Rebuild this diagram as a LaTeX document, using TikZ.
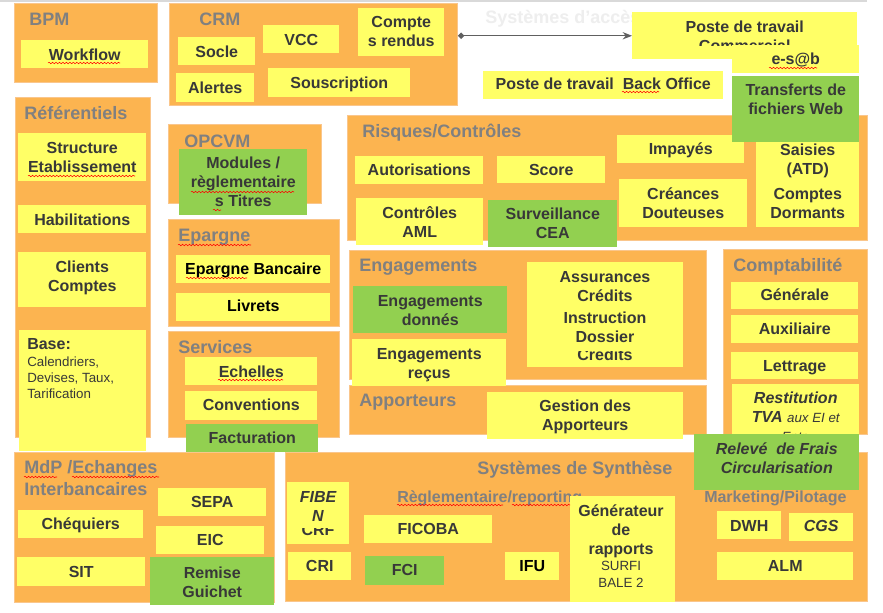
\documentclass[tikz,border=0pt]{standalone}
\usepackage{fontspec}
\setmainfont{Liberation Sans}
\usetikzlibrary{arrows.meta,decorations.pathmorphing}
\definecolor{orng}{RGB}{252,180,80}
\definecolor{orngedge}{RGB}{250,198,140}
\definecolor{ylw}{RGB}{255,255,102}
\definecolor{grn}{RGB}{146,208,80}
\definecolor{titc}{RGB}{128,128,128}
\definecolor{txtc}{RGB}{56,56,56}
\definecolor{faint}{RGB}{238,238,238}
\newcommand{\mybox}[6]{\node[#1, anchor=north west, minimum width={(#5-#3)*0.75pt}, minimum height={(#6-#4)*0.75pt}] (#2) at (#3,#4) {};}
\newcommand{\mytxt}[5][]{\node[lbl,#1] (#2) at (#3.center |- 0,#4) {#5};}
\begin{document}
\begin{tikzpicture}[x=0.75pt,y=-0.75pt,
  cont/.style={rectangle, fill=orng, draw=orngedge, line width=0.6pt, inner sep=0},
  yb/.style={rectangle, fill=ylw, inner sep=0},
  gb/.style={rectangle, fill=grn, inner sep=0},
  lbl/.style={font=\bfseries\fontsize{12}{14.25}\selectfont, text=txtc, inner sep=0, align=center, anchor=base},
  bi/.style={font=\bfseries\itshape\fontsize{12}{14.25}\selectfont},
  ttl/.style={font=\bfseries\fontsize{13.5}{16}\selectfont, text=titc, inner sep=0, anchor=base west},
  subt/.style={font=\bfseries\fontsize{12}{14}\selectfont, text=titc, inner sep=0, anchor=base west},
  squig/.style={draw=red, line width=0.4pt, decorate, decoration={snake, amplitude=0.55pt, segment length=2.6pt}},
  con/.style={draw=gray!75!black, line width=0.9pt, arrows={Diamond[length=5pt,width=5pt]-Stealth[length=7pt,width=5.5pt]}}
]
\useasboundingbox (0,0) rectangle (883,612);
\fill[white] (0,0) rectangle (883,612);
\draw[gray!30, line width=0.8pt] (0,1) -- (867,1);
\node[ttl, text=faint] (acces) at (485,23) {Systèmes d’accès};

% containers
\mybox{cont}{BPM}{14}{3}{157}{82}
\mybox{cont}{CRM}{169}{3}{457}{105}
\mybox{cont}{REF}{15}{97}{150}{437}
\mybox{cont}{OPC}{168}{124}{321}{203}
\mybox{cont}{EPA}{168}{219}{339}{326}
\mybox{cont}{SER}{168}{331}{339}{437}
\mybox{cont}{RIS}{347}{115}{867}{240}
\mybox{cont}{ENG}{349}{250}{706}{379}
\mybox{cont}{APP}{349}{385}{706}{434}
\mybox{cont}{CPT}{723}{249}{867}{434}
\mybox{cont}{MDP}{14}{452}{274}{602}
\mybox{cont}{SYN}{285}{452}{867}{601}

% titles
\node[ttl] (tBPM) at (29,25) {BPM};
\node[ttl] (tCRM) at (199,25) {CRM};
\node[ttl] (tREF) at (24,119) {Référentiels};
\node[ttl] (tOPC) at (184,147) {OPCVM};
\node[ttl] (tEPA) at (178,241) {Epargne};
\node[ttl] (tSER) at (178,353) {Services};
\node[ttl] (tRIS) at (362,137) {Risques/Contrôles};
\node[ttl] (tENG) at (359,271) {Engagements};
\node[ttl] (tAPP) at (359,406) {Apporteurs};
\node[ttl] (tCPT) at (733,271) {Comptabilité};
\node[ttl] (tMDP1) at (24,473) {MdP /Echanges};
\node[ttl] (tMDP2) at (24,495) {Interbancaires};
\node[ttl] (tSYN) at (477,474) {Systèmes de Synthèse};
\node[subt] (tREG) at (397,502) {Règlementaire/reporting};
\node[subt] (tMKT) at (704,502) {Marketing/Pilotage};

% BPM / CRM
\mybox{yb}{WF}{21}{40}{148}{68} \mytxt{tWF}{WF}{60}{Workflow}
\mybox{yb}{Socle}{178}{37}{255}{65} \mytxt{tSocle}{Socle}{57}{Socle}
\mybox{yb}{ALE}{176}{73}{254}{102} \mytxt{tALE}{ALE}{93}{Alertes}
\mybox{yb}{VCC}{263}{25}{339}{53} \mytxt{tVCC}{VCC}{45}{VCC}
\mybox{yb}{SOU}{268}{68}{410}{97} \mytxt{tSOU}{SOU}{88}{Souscription}
\mybox{yb}{CR}{358}{8}{444}{56} \mytxt{tCR}{CR}{46}{Compte\\s rendus}

% postes de travail
\mybox{yb}{PTC}{632}{12}{857}{59}
\begin{scope}
\clip (632,12) rectangle (857,45);
\mytxt{tPTC}{PTC}{51}{Poste de travail\\Commercial}
\end{scope}
\mybox{yb}{ESAB}{732}{45}{859}{73} \mytxt{tESAB}{ESAB}{64}{e-s@b}
\mybox{yb}{PTB}{483}{71}{723}{99} \mytxt{tPTB}{PTB}{89}{Poste de travail\ \ Back Office}
\draw[con] (CRM.north east |- PTC.west) -- (PTC.west);

% Referentiels
\mybox{yb}{STR}{18}{133}{146}{181} \mytxt{tSTR}{STR}{172}{Structure\\Etablissement}
\mybox{yb}{HAB}{18}{205}{146}{233} \mytxt{tHAB}{HAB}{225}{Habilitations}
\mybox{yb}{CLI}{18}{252}{146}{307} \mytxt{tCLI}{CLI}{291}{Clients\\Comptes}
\mybox{yb}{BAS}{19}{330}{146}{451}
\node[lbl, anchor=base west] (tBAS) at (27,349) {Base:};
\node[lbl, anchor=base west, align=left, font=\fontsize{10}{12}\selectfont] (tBAS2) at (27,398) {Calendriers,\\Devises, Taux,\\Tarification};

% OPCVM
\mybox{gb}{MOD}{179}{149}{307}{215} \mytxt{tMOD}{MOD}{206}{Modules /\\règlementaire\\s Titres}

% Epargne
\mybox{yb}{EB}{176}{255}{330}{283} \mytxt[text=black]{tEB}{EB}{274}{Epargne Bancaire}
\mybox{yb}{LIV}{176}{293}{330}{321} \mytxt[text=black]{tLIV}{LIV}{311}{Livrets}

% Services
\mybox{yb}{ECH}{185}{357}{317}{385} \mytxt{tECH}{ECH}{377}{Echelles}
\mybox{yb}{CONV}{185}{391}{317}{420} \mytxt{tCONV}{CONV}{410}{Conventions}
\mybox{gb}{FAC}{186}{424}{318}{452} \mytxt{tFAC}{FAC}{443}{Facturation}

% Risques
\mybox{yb}{AUT}{355}{156}{483}{184} \mytxt{tAUT}{AUT}{175}{Autorisations}
\mybox{yb}{SCO}{497}{156}{605}{183} \mytxt{tSCO}{SCO}{175}{Score}
\mybox{yb}{IMP}{617}{135}{744}{163} \mytxt{tIMP}{IMP}{154}{Impayés}
\mybox{yb}{CRE}{619}{179}{747}{227} \mytxt{tCRE}{CRE}{218}{Créances\\Douteuses}
\mybox{yb}{SAI}{756}{135}{859}{181} \mytxt{tSAI}{SAI}{174}{Saisies\\(ATD)}
\mybox{yb}{CDO}{756}{181}{859}{227} \mytxt{tCDO}{CDO}{218}{Comptes\\Dormants}
\mybox{yb}{AML}{356}{198}{483}{245} \mytxt{tAML}{AML}{237}{Contrôles\\AML}
\mybox{gb}{CEA}{488}{200}{617}{247} \mytxt{tCEA}{CEA}{238}{Surveillance\\CEA}
\mybox{gb}{TFW}{732}{76}{859}{142} \mytxt{tTFW}{TFW}{114}{Transferts de\\fichiers Web}

% Engagements
\mybox{gb}{ED}{353}{286}{507}{333} \mytxt{tED}{ED}{325}{Engagements\\donnés}
\mybox{yb}{ASS}{527}{262}{683}{367}
\node[lbl] (tASS1) at (605,301) {Assurances\\Crédits};
\node[lbl] (tASS2) at (605,342) {Instruction\\Dossier};
\begin{scope}
\clip (527,351) rectangle (683,367);
\node[lbl] (tASS3) at (605,360) {Crédits};
\end{scope}

% Apporteurs
\mybox{yb}{ER}{352}{339}{506}{386} \mytxt{tER}{ER}{378}{Engagements\\reçus}
\mybox{yb}{GDA}{487}{392}{683}{439} \mytxt{tGDA}{GDA}{430}{Gestion des\\Apporteurs}

% Comptabilite
\mybox{yb}{GEN}{731}{282}{858}{309} \mytxt{tGEN}{GEN}{300}{Générale}
\mybox{yb}{AUX}{731}{315}{858}{343} \mytxt{tAUX}{AUX}{334}{Auxiliaire}
\mybox{yb}{LET}{731}{352}{858}{379} \mytxt{tLET}{LET}{371}{Lettrage}
\mybox{yb}{RTVA}{732}{384}{859}{440} \mytxt[bi]{tRTVA}{RTVA}{441}{Restitution\\TVA {\mdseries\fontsize{10}{14.25}\selectfont aux EI et}\\{\mdseries\fontsize{10}{14.25}\selectfont Entr.}}

% MdP
\mybox{yb}{SEPA}{158}{488}{266}{516} \mytxt{tSEPA}{SEPA}{507}{SEPA}
\mybox{yb}{CHQ}{18}{510}{143}{538} \mytxt{tCHQ}{CHQ}{529}{Chéquiers}
\mybox{yb}{EIC}{156}{526}{264}{554} \mytxt{tEIC}{EIC}{545}{EIC}
\mybox{yb}{SIT}{17}{557}{145}{586} \mytxt{tSIT}{SIT}{577}{SIT}
\mybox{gb}{RG}{150}{557}{274}{605} \mytxt{tRG}{RG}{597}{Remise\\Guichet}

% Synthese
\mybox{yb}{FIB}{287}{482}{349}{544}
\node[lbl, bi] (tFIB) at (318,521) {FIBE\\N};
\begin{scope}
\clip (287,528) rectangle (349,544);
\node[lbl] (tCRF) at (318,535) {CRF};
\end{scope}
\mybox{yb}{FIC}{364}{515}{492}{543} \mytxt{tFIC}{FIC}{534}{FICOBA}
\mybox{yb}{CRI}{288}{552}{351}{580} \mytxt{tCRI}{CRI}{571}{CRI}
\mybox{gb}{FCI}{365}{556}{444}{585} \mytxt{tFCI}{FCI}{575}{FCI}
\mybox{yb}{IFU}{505}{552}{559}{580} \mytxt[text=black]{tIFU}{IFU}{571}{IFU}
\mybox{yb}{GR}{570}{496}{675}{602}
\node[lbl] (tGR1) at (621,554) {Générateur\\de\\rapports};
\node[lbl, font=\fontsize{10}{12.75}\selectfont] (tGR2) at (621,587) {SURFI\\BALE 2};
\mybox{yb}{DWH}{717}{511}{781}{539} \mytxt{tDWH}{DWH}{531}{DWH}
\mybox{yb}{CGS}{789}{513}{853}{541} \mytxt[bi]{tCGS}{CGS}{531}{CGS}
\mybox{yb}{ALM}{717}{552}{853}{580} \mytxt{tALM}{ALM}{571}{ALM}

% Releve de frais
\mybox{gb}{RDF}{694}{434}{859}{490} \mytxt[bi]{tRDF}{RDF}{473}{Relevé\ \ de Frais\\Circularisation}

% spell-check underlines
\draw[squig] (48,63) -- (120,63);
\draw[squig] (28,176) -- (135,176);
\draw[squig] (769,68) -- (817,68);
\draw[squig] (622,92) -- (659,92);
\draw[squig] (178,245) -- (251,245);
\draw[squig] (186,278) -- (247,278);
\draw[squig] (218,380) -- (283,380);
\draw[squig] (191,192) -- (294,192);
\draw[squig] (213,210) -- (221,210);
\draw[squig] (24,477) -- (57,477);
\draw[squig] (72,477) -- (159,477);
\draw[squig] (397,505) -- (503,505);
\draw[squig] (512,505) -- (570,505);
\end{tikzpicture}
\end{document}
